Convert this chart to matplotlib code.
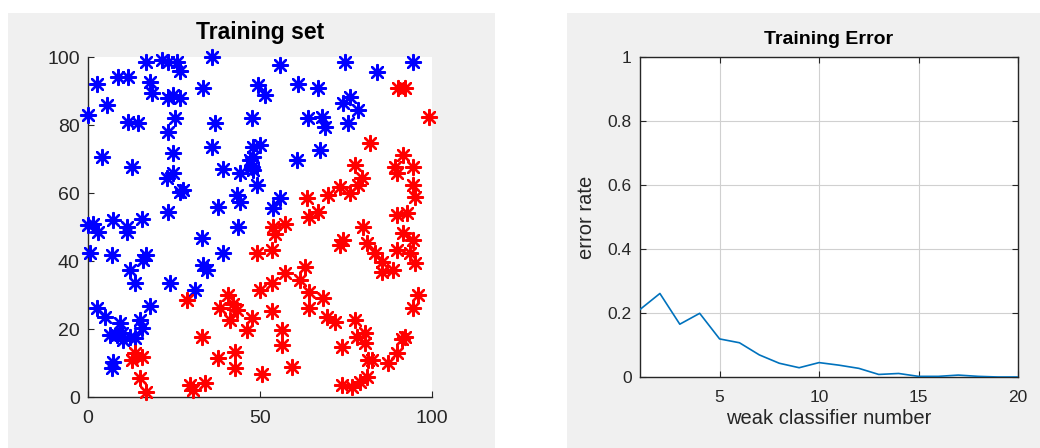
import matplotlib
matplotlib.use("Agg")
import matplotlib.pyplot as plt
from matplotlib.patches import Rectangle
import numpy as np

# ---------------- data ----------------
blue_x = [17, 21.4, 23.3, 25.9, 26.7, 36, 2.5, 8.8, 11.7, 18, 18.5, 23.3, 26.7, 24.7, 33.5,
          0, 5.4, 11.7, 14.6, 25.3, 23.3, 36.9, 47.6, 4, 12.7, 24.8, 36, 22.9, 24.8, 26.7,
          27.7, 39.3, 44.2, 47.1, 48, 47.6, 43.2, 44.2, 37.9, 23.3, 15.6, 7.4, 1.5, 0, 11.2,
          43.7, 55.8, 74.7, 83.9, 94.6, 49.5, 51.5, 61.1, 67, 76.2, 74.2, 78.6, 75.7, 64,
          67.9, 68.9, 67.4, 60.7, 50, 48, 48, 49, 55.8, 53.9, 3, 11.2, 33, 0.6, 6.9, 17,
          16.1, 39.3, 12.2, 13.7, 33.5, 34.5, 23.8, 31.1, 2.5, 4.9, 18, 9.3, 15.1, 15.6,
          6.4, 8.3, 10.3, 12.2, 13.7, 9.8, 7.4, 6.9]
blue_y = [98.4, 99, 98.5, 98.5, 96, 100, 92, 94, 94, 92.7, 89.3, 87.8, 87.8, 88.8, 90.8,
          83, 85.9, 81, 80.5, 82, 78, 80.5, 82, 70.7, 67.7, 71.7, 73.6, 64.3, 65.8, 60.4,
          60.9, 67.2, 65.8, 69.7, 73.6, 67.7, 59.4, 57.4, 56, 54.5, 52.5, 52, 51, 50.6, 50,
          50, 97.6, 98.6, 95.7, 98.6, 91.8, 88.8, 92.2, 90.8, 88.3, 86.4, 84.4, 80.5, 82,
          82.4, 79.5, 72.6, 69.7, 74.1, 70.7, 66.8, 62.4, 58.4, 55.5, 48.6, 48.6, 46.7, 42.3,
          41.8, 41.8, 40.3, 42.3, 37.4, 33.4, 38.8, 37.4, 33.4, 31.5, 26.1, 23.6, 26.7,
          21.7, 22.6, 20.2, 18.2, 18.2, 16.8, 17.7, 17.3, 18.7, 10.4, 8.4]

red_x = [90.2, 92.1, 99, 82, 77.6, 91.7, 94.6, 89.7, 89.2, 79.6, 78.6, 94.6, 95, 73.3, 76.2,
         69.9, 63.6, 64.1, 66.9, 89.7, 92.6, 80, 57.3, 53.9, 13.7, 15.6, 12.7, 15.1, 17,
         28.7, 33, 29.7, 34, 30.6, 40.8, 42.2, 38.4, 43.2, 41.3, 47.6, 46.1, 49, 50, 37.9,
         42.7, 42.7, 50.5, 54.4, 53.4, 73.3, 74.2, 81, 83.4, 85.4, 85.4, 88.8, 89.7, 91.7,
         94.6, 93.6, 95, 63.1, 57.3, 61.6, 53.4, 64.1, 64.1, 68.4, 69.4, 71.8, 53.4, 56.3,
         56.3, 77.6, 78.1, 80.5, 80.5, 81.5, 82.5, 59.2, 73.8, 76.7, 79.1, 81, 87.3, 89.7,
         91.2, 92.2, 96, 94.6, 73.8]
red_y = [90.8, 90.8, 82.4, 74.6, 68.2, 71.2, 67.7, 65.8, 67.7, 64.3, 62.4, 62.4, 58.9, 61.9,
         59.9, 59.4, 58.4, 53, 54.5, 53.5, 54, 50, 51, 50, 12.8, 11.8, 10.9, 5.5, 1.6,
         28.5, 17.7, 3.5, 4, 2, 30, 27.5, 26.1, 25.6, 22.6, 23.1, 19.7, 42.3, 31.5, 11.4,
         13.3, 8.4, 6.7, 48, 43.2, 44.7, 46.2, 45.2, 42.3, 39.8, 36.9, 37.4, 43.2, 48.1,
         46.2, 42.3, 39.3, 38.3, 36.4, 34.4, 33.4, 31, 26.1, 29, 23.6, 22.1, 25.2, 19.7,
         15.3, 22.6, 17.7, 18.7, 15.8, 10.9, 10.9, 8.9, 3.5, 3, 4.5, 6, 9.9, 12.8,
         17.2, 17.7, 30, 26.1, 14.8]

classifier_num = list(range(1, 21))
error_rate = [0.211, 0.261, 0.165, 0.199, 0.119, 0.107, 0.069, 0.043, 0.029, 0.045,
              0.037, 0.027, 0.008, 0.011, 0.002, 0.002, 0.006, 0.002, 0.0, 0.0]

left_ticks = [0, 50, 100]
left_yticks = [0, 20, 40, 60, 80, 100]
right_xticks = [5, 10, 15, 20]
right_yticks = [0, 0.2, 0.4, 0.6, 0.8, 1]

# ---------------- figure ----------------
FONT = ['Liberation Sans', 'DejaVu Sans']
plt.rcParams['font.family'] = FONT
W, H = 1040, 448
fig = plt.figure(figsize=(W / 100, H / 100), dpi=100, facecolor='white')

panel = '#f0f0f0'
fig.patches.append(Rectangle((8 / W, 0), (495 - 8) / W, (448 - 13) / H,
                             transform=fig.transFigure, facecolor=panel, edgecolor='none', zorder=-10))
fig.patches.append(Rectangle((567 / W, 0), (1040 - 567) / W, (448 - 13) / H,
                             transform=fig.transFigure, facecolor=panel, edgecolor='none', zorder=-10))

txt = '#262626'

# Left: training set
ax1 = fig.add_axes([88 / W, (H - 397) / H, 344 / W, 340 / H])
ax1.set_facecolor('white')
ast = (8, 2, 0)
ax1.scatter(blue_x, blue_y, marker=ast, s=115, color='#0000ff', linewidths=1.7, clip_on=False, zorder=3)
ax1.scatter(red_x, red_y, marker=ast, s=115, color='#ff0000', linewidths=1.7, clip_on=False, zorder=3)
ax1.set_xlim(0, 100)
ax1.set_ylim(0, 100)
ax1.set_xticks(left_ticks)
ax1.set_yticks(left_yticks)
for s in ['top', 'right']:
    ax1.spines[s].set_visible(False)
for s in ['left', 'bottom']:
    ax1.spines[s].set_color(txt)
    ax1.spines[s].set_linewidth(1.0)
ax1.tick_params(direction='in', length=4, width=0.8, colors=txt, labelsize=14, pad=6)
ax1.tick_params(axis='x', pad=9)
ax1.set_title('Training set', fontsize=16.5, fontweight='bold', pad=13, color='black')

# Right: training error
ax2 = fig.add_axes([640 / W, (H - 377) / H, 378 / W, 320 / H])
ax2.set_facecolor('white')
ax2.plot(classifier_num, error_rate, color='#0072BD', linewidth=1.2, zorder=3)
ax2.set_xlim(1, 20)
ax2.set_ylim(0, 1)
ax2.set_xticks(right_xticks)
ax2.set_yticks(right_yticks)
ax2.set_yticklabels(['0', '0.2', '0.4', '0.6', '0.8', '1'])
ax2.grid(True, color='#d0d0d0', linewidth=0.8)
ax2.set_axisbelow(True)
for s in ax2.spines.values():
    s.set_color(txt)
    s.set_linewidth(1.0)
ax2.tick_params(direction='in', length=4, width=0.8, colors=txt, labelsize=12.5,
                top=True, right=True, pad=6)
ax2.tick_params(axis='x', pad=9)
ax2.set_title('Training Error', fontsize=14, fontweight='bold', pad=9, color='black')
ax2.set_xlabel('weak classifier number', fontsize=14.5, color=txt, labelpad=3)
ax2.set_ylabel('error rate', fontsize=14.5, color=txt, labelpad=8)

fig.savefig('out.png', dpi=100, facecolor='white')
